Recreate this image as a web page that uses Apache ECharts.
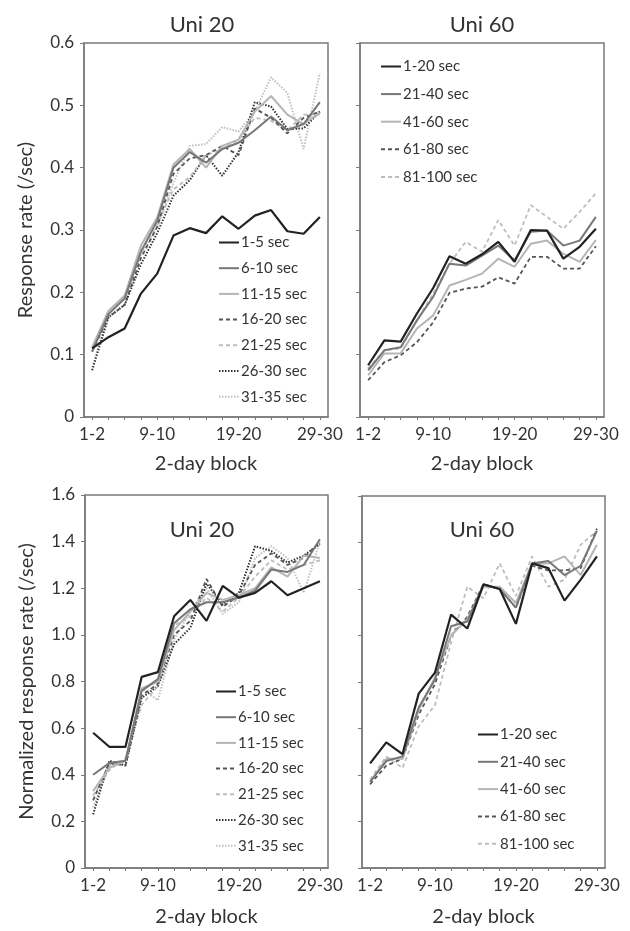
<!DOCTYPE html>
<html>
<head>
<meta charset="utf-8">
<script src="https://cdn.jsdelivr.net/npm/echarts@6/dist/echarts.min.js"></script>
<style>html,body{margin:0;padding:0;background:#fff}#c{width:630px;height:931px}</style>
</head>
<body>
<div id="c"></div>
<script>
// ---- categories and tick labels ----
var blocks = ['1-2','3-4','5-6','7-8','9-10','11-12','13-14','15-16','17-18','19-20','21-22','23-24','25-26','27-28','29-30'];
var shownBlockLabels = ['1-2','9-10','19-20','29-30'];
var uni20Names = ['1-5 sec','6-10 sec','11-15 sec','16-20 sec','21-25 sec','26-30 sec','31-35 sec'];
var uni60Names = ['1-20 sec','21-40 sec','41-60 sec','61-80 sec','81-100 sec'];

// ---- top-left: Uni 20, response rate ----
var u20_rate_1_5   = [0.110,0.128,0.142,0.198,0.230,0.291,0.303,0.295,0.322,0.302,0.323,0.332,0.298,0.294,0.321];
var u20_rate_6_10  = [0.105,0.165,0.190,0.265,0.315,0.400,0.425,0.408,0.430,0.440,0.460,0.482,0.460,0.470,0.505];
var u20_rate_11_15 = [0.112,0.170,0.195,0.275,0.320,0.405,0.430,0.400,0.435,0.445,0.490,0.515,0.485,0.470,0.488];
var u20_rate_16_20 = [0.105,0.160,0.180,0.255,0.305,0.390,0.415,0.420,0.435,0.420,0.495,0.480,0.455,0.480,0.490];
var u20_rate_21_25 = [0.110,0.170,0.190,0.265,0.310,0.365,0.385,0.420,0.430,0.445,0.480,0.475,0.460,0.485,0.485];
var u20_rate_26_30 = [0.075,0.160,0.180,0.245,0.295,0.355,0.380,0.420,0.387,0.425,0.505,0.498,0.462,0.463,0.490];
var u20_rate_31_35 = [0.080,0.165,0.195,0.260,0.305,0.375,0.435,0.438,0.465,0.458,0.490,0.545,0.520,0.430,0.552];

// ---- top-right: Uni 60, response rate ----
var u60_rate_1_20   = [0.083,0.123,0.121,0.166,0.207,0.258,0.246,0.261,0.281,0.249,0.300,0.299,0.254,0.273,0.302];
var u60_rate_21_40  = [0.075,0.107,0.112,0.155,0.193,0.246,0.243,0.259,0.275,0.251,0.297,0.299,0.275,0.283,0.321];
var u60_rate_41_60  = [0.067,0.102,0.102,0.142,0.163,0.211,0.220,0.230,0.254,0.241,0.278,0.283,0.262,0.249,0.284];
var u60_rate_61_80  = [0.059,0.088,0.099,0.120,0.152,0.199,0.206,0.209,0.224,0.214,0.257,0.257,0.238,0.238,0.274];
var u60_rate_81_100 = [0.078,0.107,0.110,0.155,0.198,0.246,0.281,0.265,0.316,0.275,0.340,0.321,0.302,0.329,0.359];

// ---- bottom-left: Uni 20, normalized ----
var u20_norm_1_5   = [0.58,0.52,0.52,0.82,0.84,1.08,1.15,1.06,1.21,1.16,1.18,1.23,1.17,1.20,1.23];
var u20_norm_6_10  = [0.40,0.45,0.46,0.76,0.81,1.05,1.11,1.14,1.14,1.16,1.19,1.28,1.27,1.30,1.41];
var u20_norm_11_15 = [0.33,0.43,0.46,0.77,0.80,1.02,1.10,1.18,1.15,1.17,1.20,1.29,1.25,1.34,1.33];
var u20_norm_16_20 = [0.29,0.45,0.44,0.74,0.79,1.00,1.06,1.24,1.12,1.17,1.30,1.35,1.30,1.33,1.40];
var u20_norm_21_25 = [0.31,0.42,0.47,0.70,0.78,1.04,1.08,1.16,1.10,1.16,1.25,1.32,1.28,1.30,1.32];
var u20_norm_26_30 = [0.23,0.46,0.44,0.73,0.78,0.96,1.03,1.22,1.13,1.18,1.38,1.36,1.31,1.34,1.39];
var u20_norm_31_35 = [0.26,0.44,0.46,0.77,0.72,0.98,1.10,1.20,1.09,1.14,1.33,1.38,1.33,1.18,1.40];

// ---- bottom-right: Uni 60, normalized ----
var u60_norm_1_20   = [0.45,0.54,0.49,0.75,0.84,1.09,1.03,1.22,1.20,1.05,1.31,1.29,1.15,1.24,1.34];
var u60_norm_21_40  = [0.37,0.46,0.48,0.69,0.81,1.04,1.06,1.22,1.20,1.12,1.31,1.32,1.26,1.30,1.45];
var u60_norm_41_60  = [0.37,0.47,0.47,0.68,0.82,1.00,1.07,1.21,1.21,1.14,1.31,1.31,1.34,1.26,1.39];
var u60_norm_61_80  = [0.36,0.44,0.47,0.66,0.79,1.00,1.08,1.22,1.20,1.12,1.30,1.28,1.28,1.29,1.46];
var u60_norm_81_100 = [0.38,0.48,0.43,0.61,0.70,0.97,1.21,1.16,1.31,1.17,1.34,1.21,1.24,1.39,1.45];

var FONT = 'Lato';
var TXT = '#333';
var AX = '#7a7a7a';

var u20Styles = [
  {color:'#222', width:2.2, type:'solid'},
  {color:'#777', width:2, type:'solid'},
  {color:'#b5b5b5', width:2, type:'solid'},
  {color:'#555', width:1.8, type:[4,3]},
  {color:'#bdbdbd', width:1.8, type:[4,3]},
  {color:'#333', width:2, type:[1.5,1.5]},
  {color:'#c0c0c0', width:2, type:[1.5,1.5]}
];
var u60Styles = [
  {color:'#222', width:2.2, type:'solid'},
  {color:'#777', width:2, type:'solid'},
  {color:'#b5b5b5', width:2, type:'solid'},
  {color:'#555', width:1.8, type:[4,3]},
  {color:'#bdbdbd', width:1.8, type:[4,3]}
];

var grids = [
  {left:84, top:43, width:244, height:374},
  {left:360, top:43, width:244, height:374},
  {left:85, top:495, width:243, height:373},
  {left:362, top:496, width:243, height:372}
];
grids.forEach(function(g){ g.show = true; g.borderColor = AX; g.borderWidth = 1.5; g.backgroundColor = 'transparent'; });

function xAx(i){
  return {
    type:'category', gridIndex:i, data:blocks, boundaryGap:true,
    name:'2-day block', nameLocation:'middle', nameGap: i<2 ? 37 : 39,
    nameTextStyle:{fontFamily:FONT, fontSize:20, color:TXT},
    axisLine:{lineStyle:{color:AX, width:1.5}},
    axisTick:{show:true, interval:0, alignWithLabel:true, length:3, lineStyle:{color:AX}},
    axisLabel:{interval:function(idx, v){ return shownBlockLabels.indexOf(v) >= 0; }, fontFamily:FONT, fontSize:17, color:TXT, margin:9},
    splitLine:{show:false}
  };
}
function yAx(i, max, step, showLabels, name){
  return {
    type:'value', gridIndex:i, min:0, max:max, interval:step,
    name: name || '', nameLocation:'middle', nameGap:48,
    nameTextStyle:{fontFamily:FONT, fontSize:20, color:TXT},
    axisLine:{show:true, lineStyle:{color:AX, width:1.5}},
    axisTick:{show:true, length:4, lineStyle:{color:AX}},
    axisLabel:{show:showLabels, fontFamily:FONT, fontSize:17, color:TXT, margin:10,
      formatter:function(v){ return v === 0 ? '0' : v.toFixed(1); }},
    splitLine:{show:false}
  };
}

var series = [];
function addSeries(names, styles, arrays, idx){
  for (var k=0;k<arrays.length;k++){
    series.push({
      type:'line', name:names[k], xAxisIndex:idx, yAxisIndex:idx,
      data:arrays[k], symbol:'none', animation:false,
      lineStyle:{color:styles[k].color, width:styles[k].width, type:styles[k].type},
      itemStyle:{color:styles[k].color}, z: 10 - k
    });
  }
}
addSeries(uni20Names, u20Styles, [u20_rate_1_5,u20_rate_6_10,u20_rate_11_15,u20_rate_16_20,u20_rate_21_25,u20_rate_26_30,u20_rate_31_35], 0);
addSeries(uni60Names, u60Styles, [u60_rate_1_20,u60_rate_21_40,u60_rate_41_60,u60_rate_61_80,u60_rate_81_100], 1);
addSeries(uni20Names, u20Styles, [u20_norm_1_5,u20_norm_6_10,u20_norm_11_15,u20_norm_16_20,u20_norm_21_25,u20_norm_26_30,u20_norm_31_35], 2);
addSeries(uni60Names, u60Styles, [u60_norm_1_20,u60_norm_21_40,u60_norm_41_60,u60_norm_61_80,u60_norm_81_100], 3);

function legend(names, left, top, gap){
  return {
    data:names, orient:'vertical', left:left, top:top, itemGap:gap,
    itemWidth:20, itemHeight:16, selectedMode:false, padding:0,
    itemStyle:{opacity:0, borderWidth:0},
    textStyle:{fontFamily:FONT, fontSize:15, color:TXT, padding:[0,0,0,-3]},
    inactiveColor:'#ccc'
  };
}

function ttl(text, cx, cy){
  return {text:text, left:cx, top:cy, textAlign:'center', textVerticalAlign:'middle',
    textStyle:{fontFamily:FONT, fontSize:22, fontWeight:'normal', color:TXT}};
}

var chart = echarts.init(document.getElementById('c'), null, {renderer:'canvas'});
chart.setOption({
  animation:false,
  backgroundColor:'#fff',
  title:[ttl('Uni 20',197,20), ttl('Uni 60',477,20), ttl('Uni 20',197,525), ttl('Uni 60',477,525)],
  grid:grids,
  xAxis:[xAx(0), xAx(1), xAx(2), xAx(3)],
  yAxis:[
    yAx(0, 0.6, 0.1, true, 'Response rate (/sec)'),
    yAx(1, 0.6, 0.1, false),
    yAx(2, 1.6, 0.2, true, 'Normalized response rate (/sec)'),
    yAx(3, 1.6, 0.2, false)
  ],
  legend:[
    legend(uni20Names, 218, 235, 10.7),
    legend(uni60Names, 380, 59, 12.6),
    legend(uni20Names, 215, 684, 10.7),
    legend(uni60Names, 477, 727, 12.3)
  ],
  series:series
});
</script>
</body>
</html>
